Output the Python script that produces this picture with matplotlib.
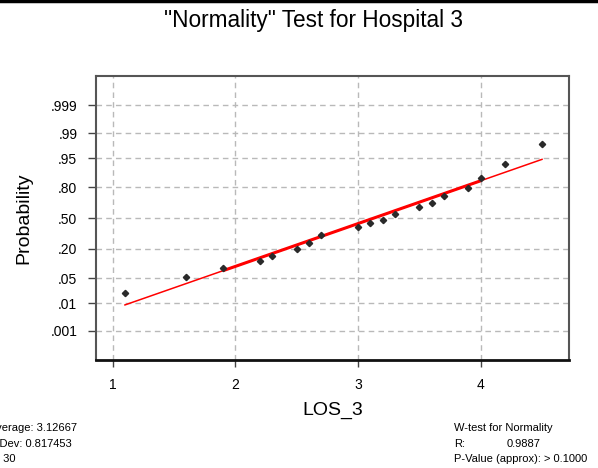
import matplotlib
matplotlib.use("Agg")
import matplotlib.pyplot as plt
from matplotlib.lines import Line2D
import numpy as np
import pandas as pd
from statistics import NormalDist

# ---- data ----
los_3 = [1.1, 1.6, 1.9, 2.2, 2.3, 2.5, 2.5, 2.6, 2.7, 2.7, 2.7, 3.0, 3.0, 3.1, 3.2,
         3.3, 3.3, 3.3, 3.5, 3.6, 3.6, 3.7, 3.7, 3.9, 3.9, 4.0, 4.0, 4.2, 4.2, 4.5]
prob_ticks = [0.999, 0.99, 0.95, 0.80, 0.50, 0.20, 0.05, 0.01, 0.001]
prob_labels = [".999", ".99", ".95", ".80", ".50", ".20", ".05", ".01", ".001"]
x_ticks = [1, 2, 3, 4]
stats_left = ["Average: 3.12667", "StDev: 0.817453", "N: 30"]
wtest_title = "W-test for Normality"
wtest_r = ("R:", "0.9887")
wtest_p = "P-Value (approx): > 0.1000"

plt.rcParams['font.family'] = ['Liberation Sans', 'DejaVu Sans']

nd = NormalDist()
x = np.array(los_3)
n = len(x)
ranks = pd.Series(x).rank(method="average").to_numpy()
p = (ranks - 0.375) / (n + 0.25)
z = np.array([nd.inv_cdf(v) for v in p])
slope, intercept = np.polyfit(x, z, 1)
xu = np.unique(x)
zu = np.array([z[x == v][0] for v in xu])

fig = plt.figure(figsize=(5.98, 4.68), dpi=100)
ax = fig.add_axes([96/598, 1-360/468, (569-96)/598, (360-75.6)/468])

# grid
for t in x_ticks:
    ax.axvline(t, color="#b9b9b9", lw=1, dashes=(4, 3), zorder=1)
for pr in prob_ticks:
    ax.axhline(nd.inv_cdf(pr), color="#b9b9b9", lw=1, dashes=(4, 3), zorder=1)

# fitted line
xl = np.array([x.min(), x.max()])
ax.plot(xl, slope*xl + intercept, color="red", lw=1.1, zorder=2)
xm = np.array([np.sort(x)[2], np.sort(x)[-4]])
ax.plot(xm, slope*xm + intercept, color="red", lw=2.2, zorder=2, solid_capstyle="butt")

# points
ax.plot(xu, zu, linestyle="none", marker="D", ms=3.2, color="#2a2a2a", zorder=3)

ax.set_xlim(0.864, 4.72)
ax.set_ylim(-3.885, 3.903)
ax.set_xticks(x_ticks)
ax.set_xticklabels([str(t) for t in x_ticks], fontsize=10)
ax.set_yticks([nd.inv_cdf(pr) for pr in prob_ticks])
ax.set_yticklabels(prob_labels, fontsize=10)
ax.tick_params(axis="y", direction="out", length=5.5, width=1, color="#444444", pad=8)
ax.tick_params(axis="x", direction="out", length=5, width=1, color="#444444", pad=8)

for s in ["left", "top", "right"]:
    ax.spines[s].set_color("#555555")
    ax.spines[s].set_linewidth(1.5)
ax.spines["bottom"].set_color("#111111")
ax.spines["bottom"].set_linewidth(2)

ax.set_xlabel("LOS_3", fontsize=14, labelpad=7)
fig.text(24/598, 1-218/468, "Probability", fontsize=14, rotation=90,
         ha="center", va="center")

fig.text(313/598, 1-20/468, '"Normality" Test for Hospital 3', fontsize=16.3,
         ha="center", va="center")

# top border line
fig.add_artist(Line2D([0, 1], [1-1/468, 1-1/468], color="black", lw=2.5,
                      transform=fig.transFigure))

# stats text
ys = [428, 444, 459]
for s, yy in zip(stats_left, ys):
    fig.text(-11/598, 1-yy/468, s, fontsize=8, ha="left", va="center")
fig.text(454/598, 1-428/468, wtest_title, fontsize=8, ha="left", va="center")
fig.text(454/598, 1-444/468, wtest_r[0], fontsize=8, ha="left", va="center")
fig.text(507/598, 1-444/468, wtest_r[1], fontsize=8, ha="left", va="center")
fig.text(454/598, 1-459/468, wtest_p, fontsize=8, ha="left", va="center")

fig.savefig("out.png", dpi=100)
